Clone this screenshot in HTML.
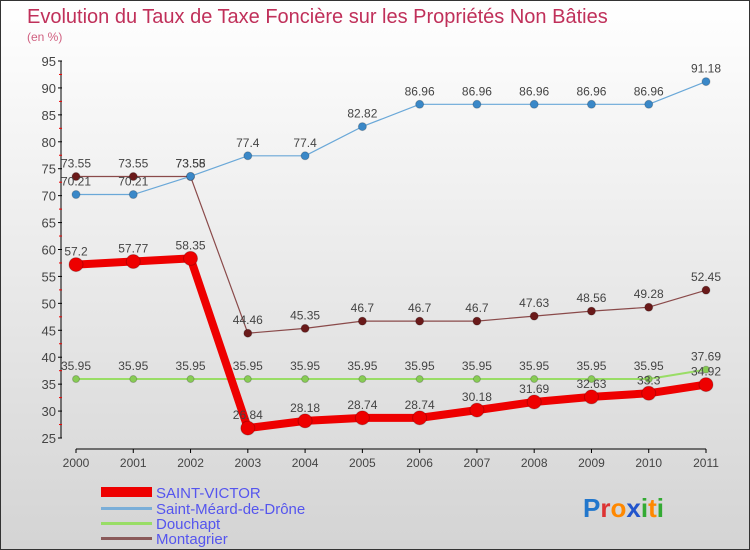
<!DOCTYPE html>
<html><head><meta charset="utf-8"><style>
body{margin:0;font-family:"Liberation Sans",sans-serif;}
#c{width:748px;height:548px;border:1px solid #333;background:linear-gradient(#ffffff,#d4d4d4);position:relative;overflow:hidden}
</style></head><body>
<div id="c">
<svg id="s" width="748" height="548">
<text x="26" y="22" font-size="20" fill="#c0305a">Evolution du Taux de Taxe Foncière sur les Propriétés Non Bâties</text>
<text x="26" y="40" font-size="12" fill="#d06080">(en %)</text>
<g id="axes"></g><g id="series"></g>
<g>
<rect x="100" y="486" width="51" height="10" fill="#e00"/>
<text x="155" y="497" font-size="15" fill="#5555ee">SAINT-VICTOR</text>
<rect x="100" y="506" width="51" height="3" fill="#7aaed8"/>
<text x="155" y="513" font-size="15" fill="#5555ee">Saint-Méard-de-Drône</text>
<rect x="100" y="521" width="51" height="3" fill="#99dd66"/>
<text x="155" y="528" font-size="15" fill="#5555ee">Douchapt</text>
<rect x="100" y="536" width="51" height="3" fill="#8a5a5a"/>
<text x="155" y="543" font-size="15" fill="#5555ee">Montagrier</text>
</g>
<text x="582" y="516" font-size="26" font-weight="bold"><tspan fill="#2277cc">P</tspan><tspan fill="#dd3333">r</tspan><tspan fill="#ff8800">o</tspan><tspan fill="#2255cc">x</tspan><tspan fill="#33aa33">i</tspan><tspan fill="#ff8800">t</tspan><tspan fill="#33aa33">i</tspan></text>
</svg></div>
<script>
const years=[2000,2001,2002,2003,2004,2005,2006,2007,2008,2009,2010,2011];
const yTicks=[25,30,35,40,45,50,55,60,65,70,75,80,85,90,95];
const saintVictor=[57.2,57.77,58.35,26.84,28.18,28.74,28.74,30.18,31.69,32.63,33.3,34.92];
const saintMeard=[70.21,70.21,73.58,77.4,77.4,82.82,86.96,86.96,86.96,86.96,86.96,91.18];
const douchapt=[35.95,35.95,35.95,35.95,35.95,35.95,35.95,35.95,35.95,35.95,35.95,37.69];
const montagrier=[73.55,73.55,73.55,44.46,45.35,46.7,46.7,46.7,47.63,48.56,49.28,52.45];
const NS="http://www.w3.org/2000/svg";
const X=i=>75+i*(705-75)/(years.length-1);
const Y=v=>437-(v-25)*(437-60)/70;
function mk(t,a,p){const e=document.createElementNS(NS,t);for(const k in a)e.setAttribute(k,a[k]);p.appendChild(e);return e;}
const ax=document.getElementById('axes');
let yl=mk('line',{x1:60,y1:60,x2:60,y2:437,stroke:'#000'},ax);


yTicks.forEach(v=>{mk('line',{x1:57,x2:61,y1:Y(v),y2:Y(v),stroke:'#000'},ax);
 if(v<95)mk('line',{x1:58,x2:61,y1:Y(v+2.5),y2:Y(v+2.5),stroke:'#e00'},ax);
 const t=mk('text',{x:55,y:Y(v)+5,'text-anchor':'end','font-size':13,fill:'#444'},ax);t.textContent=v;
 
 });
let xl=mk('line',{x1:75,y1:448,x2:705,y2:448,stroke:'#000'},ax);


years.forEach((y,i)=>{mk('line',{x1:X(i),x2:X(i),y1:448,y2:452,stroke:'#000'},ax);
 const t=mk('text',{x:X(i),y:466,'text-anchor':'middle','font-size':12,fill:'#444'},ax);t.textContent=y;
 
 });
const sg=document.getElementById('series');
function series(name,data,color,w,r,dot){
 const g=mk('g',{},sg);
 
 
 mk('polyline',{points:data.map((v,i)=>X(i)+','+Y(v)).join(' '),fill:'none',stroke:color,'stroke-width':w,'stroke-linejoin':'round'},g);
 data.forEach((v,i)=>{const c=mk('circle',{cx:X(i),cy:Y(v),r:r,fill:dot,stroke:'#0003'},g);
  
  
  const t=mk('text',{x:X(i),y:Y(v)-9,'text-anchor':'middle','font-size':12,fill:'#444'},g);t.textContent=v;
  
  });
}
series('douchapt',douchapt,'#99dd66',2,3.5,'#88cc55');
series('montagrier',montagrier,'#8a4a4a',1.2,4,'#6a1a1a');
series('saint-meard',saintMeard,'#6aa8d8',1.2,4,'#3a88c8');
series('saint-victor',saintVictor,'#ee0000',8,7,'#ee0000');
</script>
</body></html>
